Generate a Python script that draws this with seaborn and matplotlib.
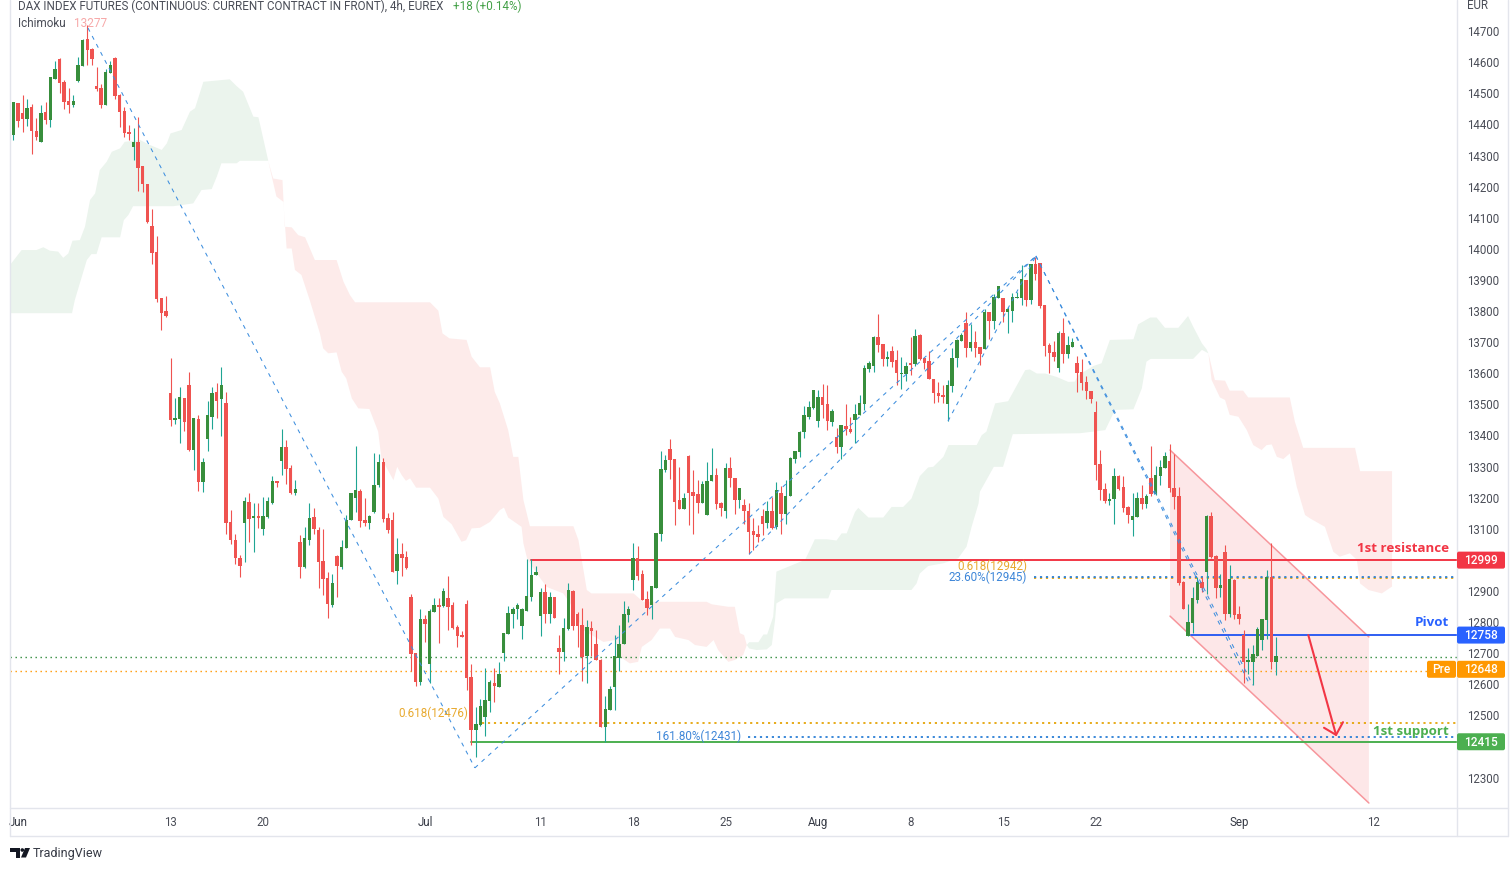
import matplotlib
matplotlib.use("Agg")
import matplotlib.pyplot as plt
from matplotlib.lines import Line2D
from matplotlib.patches import FancyBboxPatch, Polygon, Rectangle, Circle
import numpy as np
import pandas as pd
import seaborn as sns

# ---------- candles (EUR) ----------
open_prices = [
14366,14469,14437,14417,14456,14379,14343,14440,14414,14546,14610,14536,14475,14462,14540,14588,14675,14642,14523,14517,
14462,14565,14613,14494,14443,14375,14327,14343,14266,14208,14073,13989,13841,13800,
13536,13449,13453,13520,13562,13353,13453,13250,13388,13459,13539,13517,13504,13121,13063,13006,13118,13186,13134,13141,
13099,13137,13182,13253,13317,13362,13295,13215,13057,12977,13063,13137,13096,12996,12941,12854,13012,12977,13038,13128,
13198,13221,13128,13118,13153,13240,13314,13134,13128,12964,13018,13009,
12880,12700,12607,12809,12664,12832,12854,12851,12877,12854,12783,12758,12857,12623,12452,12468,12494,12545,12603,12590,
12700,12761,12825,12841,12787,12835,12880,12951,12819,12896,12825,12880,12716,12703,12777,12899,12825,12790,12690,12780,
12729,12677,12462,12517,12590,12684,12729,12822,12935,13005,12954,12873,12854,12909,13083,13288,13356,13324,13192,13163,
13333,13218,13211,13182,13144,13253,13272,13182,13157,13295,13263,
13192,13176,13156,13092,13082,13140,13118,13156,13105,13214,13147,13205,13324,13346,13411,13459,13488,13446,13523,13501,
13443,13394,13362,13430,13420,13449,13465,13501,13613,13623,13716,13693,13645,13671,13642,13597,13597,13632,13629,13722,
13648,13639,13581,13536,13530,13501,13558,13648,13703,13761,13681,13700,13684,13677,13796,13768,13841,13841,13796,13800,
13841,13841,13899,13835,13951,13954,13819,13690,13668,13616,13729,13661,13684,13632,
13604,13572,13543,13475,13308,13228,13189,13195,13269,13234,13170,13128,13137,13199,13179,13263,13211,13269,13295,13318,
13231,13205,12928,12755,12797,12871,12928,12961,13141,13012,12909,13025,12826,12935,12826,12758,12671,12671,12690,12742,
12806,12944,12671]
high_prices = [
14472,14469,14494,14482,14466,14420,14462,14472,14552,14604,14613,14543,14517,14494,14617,14675,14720,14646,14585,14530,
14578,14604,14617,14498,14456,14398,14388,14424,14266,14208,14128,14041,13841,13848,
13649,13520,13555,13520,13604,13456,13465,13327,13510,13555,13568,13620,13539,13160,13083,13015,13202,13215,13182,13182,
13202,13202,13269,13253,13420,13385,13305,13256,13079,13105,13182,13166,13105,13099,12960,12954,13015,13063,13144,13215,
13366,13227,13198,13144,13343,13340,13327,13150,13153,13070,13054,13028,
12890,12700,12841,12822,12841,12877,12877,12909,12947,12864,12790,12771,12870,12664,12526,12552,12652,12613,12652,12671,
12764,12851,12848,12861,12845,13002,13002,12980,12909,12922,12896,12880,12758,12812,12925,12902,12832,12845,12806,12803,
12774,12681,12562,12594,12758,12790,12867,12851,13054,13044,12967,12899,12915,13086,13349,13337,13388,13324,13298,13214,
13337,13288,13256,13253,13314,13359,13295,13185,13311,13330,13263,
13230,13195,13182,13134,13111,13163,13189,13201,13250,13237,13256,13330,13349,13414,13494,13510,13546,13546,13565,13562,
13484,13423,13433,13501,13459,13501,13530,13626,13639,13719,13790,13693,13671,13687,13674,13652,13636,13716,13742,13726,
13648,13671,13581,13571,13562,13578,13681,13710,13729,13796,13758,13735,13684,13806,13796,13854,13880,13841,13813,13858,
13861,13948,13899,13951,13973,13954,13819,13697,13703,13735,13777,13719,13713,13655,
13646,13591,13543,13511,13353,13247,13215,13295,13273,13269,13173,13215,13218,13240,13211,13366,13301,13321,13347,13372,
13340,13234,12932,12858,12912,12945,12945,13144,13154,13015,12954,13047,12983,12938,12851,12774,12716,12726,12784,12809,
12967,13054,12752]
low_prices = [
14350,14393,14375,14395,14305,14350,14343,14401,14392,14546,14501,14449,14437,14456,14536,14588,14591,14591,14507,14453,
14462,14565,14482,14392,14359,14350,14285,14186,14183,14083,13951,13828,13738,13780,
13430,13436,13375,13414,13350,13289,13221,13218,13350,13420,13456,13398,13083,13051,12986,12944,12993,13057,13025,13102,
13080,13134,13179,13234,13272,13244,13211,13208,12941,12973,13047,13083,12909,12886,12813,12848,12880,12970,13038,13128,
13153,13105,13108,13099,13150,13234,13121,13086,12960,12922,12948,12970,
12642,12594,12597,12735,12603,12832,12732,12848,12774,12777,12719,12751,12581,12404,12365,12465,12433,12510,12542,12590,
12674,12761,12780,12809,12745,12835,12867,12951,12755,12796,12796,12812,12632,12674,12774,12774,12719,12610,12603,12690,
12677,12462,12414,12517,12517,12642,12729,12800,12902,12935,12870,12822,12809,12909,13060,13282,13259,13111,13163,13163,
13111,13083,13150,13182,13144,13253,13163,13140,13134,13234,13147,
13166,13115,13018,13031,13057,13079,13102,13099,13099,13082,13115,13205,13311,13330,13391,13452,13484,13427,13456,13417,
13430,13343,13324,13401,13407,13375,13465,13481,13603,13603,13668,13623,13623,13620,13562,13549,13575,13594,13623,13642,
13613,13581,13504,13507,13504,13446,13539,13620,13703,13652,13671,13652,13626,13677,13710,13742,13841,13764,13729,13764,
13841,13819,13816,13822,13899,13809,13655,13600,13639,13603,13632,13649,13684,13539,
13546,13517,13504,13256,13192,13182,13176,13115,13224,13154,13118,13076,13137,13163,13166,13205,13208,13240,13295,13218,
13163,12919,12842,12755,12764,12861,12896,12890,13006,12877,12880,12806,12816,12809,12793,12604,12633,12597,12690,12710,
12745,12649,12629]
close_prices = [
14472,14411,14417,14453,14379,14359,14437,14414,14552,14578,14533,14472,14462,14475,14591,14671,14639,14610,14514,14462,
14568,14591,14491,14440,14372,14369,14343,14260,14208,14086,13986,13838,13793,13783,
13449,13456,13523,13443,13353,13456,13250,13314,13465,13536,13510,13562,13118,13063,13006,12980,13189,13131,13141,13134,
13141,13189,13253,13247,13362,13292,13215,13227,12977,13070,13134,13099,12993,12938,12858,12925,12980,13041,13128,13215,
13224,13125,13118,13141,13240,13314,13131,13096,12960,13018,13006,12973,
12697,12607,12809,12793,12835,12854,12848,12899,12848,12780,12754,12751,12619,12452,12471,12529,12549,12607,12594,12632,
12764,12828,12841,12854,12841,12883,12951,12960,12896,12825,12880,12812,12703,12780,12902,12787,12787,12687,12783,12771,
12677,12462,12520,12584,12690,12729,12825,12841,13005,12947,12870,12845,12915,13086,13292,13321,13321,13185,13163,13198,
13214,13205,13182,13243,13253,13272,13179,13166,13295,13263,13192,
13230,13156,13089,13079,13073,13115,13156,13102,13224,13147,13205,13327,13349,13411,13465,13491,13546,13523,13497,13446,
13478,13362,13433,13420,13411,13468,13504,13616,13632,13716,13690,13645,13652,13636,13600,13600,13623,13626,13719,13645,
13632,13581,13536,13526,13523,13562,13648,13706,13722,13681,13700,13681,13661,13796,13768,13845,13880,13796,13806,13845,
13845,13903,13835,13951,13919,13816,13687,13665,13652,13729,13661,13690,13700,13600,
13568,13543,13517,13305,13224,13189,13195,13269,13228,13166,13144,13141,13199,13179,13205,13211,13273,13298,13334,13231,
13202,12925,12842,12800,12877,12928,12909,13141,13009,12909,12919,12826,12938,12822,12809,12671,12678,12697,12777,12809,
12944,12671,12690]

# ---------- Ichimoku cloud (bar index, price) ----------
g1_top_bars = [-0.7,1.8,5,6.5,7.9,9.7,10.8,11.9,12.8,14.4,15.5,16.6,17.7,18.7,20.2,21.3,23.1,24.1,27.4,29.5,32.1,33.2,34,36.4,38.2,39.3,41.1,46.8,48.3,49.7,51.9,53,55.1]
g1_top_vals = [13948,13996,13996,14005,13994,13991,13971,13985,14026,14028,14071,14157,14178,14253,14280,14312,14323,14344,14350,14334,14318,14339,14371,14382,14441,14452,14537,14545,14523,14505,14425,14423,14285]
g1_bot_bars = [-0.7,12.7,13.3,15.9,16.9,18,19.1,23.1,23.9,24.9,25.9,34.6,38.9,40.7,42.9,44,45,48.3,49,55.1]
g1_bot_vals = [13793,13793,13835,13964,13983,13983,14037,14037,14092,14109,14137,14137,14146,14189,14192,14232,14275,14275,14283,14283]

r1_top_bars = [55.1,56.2,58.2,58.7,60.2,61.6,63.1,65.2,69.9,71.4,72.8,73.9,90.1,91.9,92.8,94.3,98,99.1,100.9,103.1,104.1,105.2,107,108.1,109.2,110.3,111.7,121.1,122.2,124,125,134.1,136.2,149.9,151,154.6,156,157.1,158,158.6]
r1_top_vals = [14283,14226,14221,14071,14069,14044,14037,13964,13964,13894,13851,13828,13828,13801,13728,13712,13707,13653,13619,13619,13540,13503,13417,13331,13331,13192,13108,13108,13063,12903,12892,12892,12865,12865,12857,12849,12849,12764,12758,12726]
r1_bot_bars = [55.1,56.9,58.4,59.1,60.2,60.9,62.3,64.1,66.3,67,68.1,69.9,71,72,73.2,74.6,77,78.9,79.6,82.2,83,84,84.9,85.8,87.1,90.1,91.9,93,94.8,96.9,97.9,99.1,100.9,103.1,105.2,106.1,107,109.9,110.3,111.1,113.2,115.3,118.9,120.4,123.2,127.6,130.1,131.2,133.3,135.1,135.9,138,139.8,142,143.1,146,147.4,149.9,151.4,152.4,154.6,156,157.8,158.6]
r1_bot_vals = [14283,14168,14151,14001,14001,13932,13916,13835,13728,13680,13664,13667,13605,13583,13519,13487,13485,13412,13326,13256,13299,13272,13254,13262,13232,13232,13197,13138,13114,13058,13063,13101,13103,13122,13160,13168,13136,13106,13053,13004,12956,12913,12892,12860,12774,12736,12742,12688,12667,12672,12720,12742,12779,12779,12752,12742,12726,12720,12742,12710,12672,12678,12694,12726]

g2_top_bars = [158.6,159.1,161.1,162.2,163,164.3,165,171.2,172.3,173.3,175.9,178,179.1,180.2,181.3,182,182.7,184.9,188.1,189.9,192.4,194.2,196,197.8,198.9,201.1,202.2,208.3,209.4,210.4,212.3,215.1,218.8,219.8,221.3,223.1,225.6,228.1,229.5,230.3,233.5,235.3,237.1,242.2,243.2,245.8,247.2,249,251.9,254,255.1,257,258,258.4]
g2_top_vals = [12726,12735,12735,12760,12760,12817,12962,13000,13034,13066,13066,13062,13085,13085,13128,13154,13167,13136,13136,13170,13170,13197,13269,13297,13299,13331,13369,13369,13401,13412,13503,13510,13610,13612,13599,13599,13588,13572,13573,13594,13623,13632,13707,13709,13757,13779,13779,13746,13746,13784,13750,13696,13677,13664]
g2_bot_bars = [158.6,159.1,160.7,162.9,164,164.7,165,166.8,176.2,176.9,194.2,195.3,196,197.8,201.1,204.3,206.1,207.2,208.7,209,212,214,216.1,230.6,236.1,238.2,242.2,244,245,245.9,255.1,257,258.4]
g2_bot_vals = [12726,12715,12710,12712,12726,12806,12860,12876,12876,12903,12903,12924,12956,12980,12989,13005,13042,13106,13181,13219,13299,13299,13404,13407,13417,13482,13484,13551,13637,13646,13646,13675,13664]

r2_top_bars = [258.4,259.8,262,263,265.9,267,276,277.1,278.9,290.1,291.2,298.1]
r2_top_vals = [13664,13578,13576,13544,13544,13522,13522,13444,13360,13360,13285,13285]
r2_bot_bars = [258.4,259.1,260.9,262,263,264.9,266.7,268.1,269.9,271,272.1,273.2,274.6,276,277.5,279.3,280.4,283.6,285.4,286.8,289,290.5,291.2,293,295.9,298.1]
r2_bot_vals = [13664,13578,13522,13514,13466,13460,13417,13369,13353,13369,13371,13331,13324,13342,13235,13144,13133,13106,13026,13010,13021,13000,12924,12903,12892,12914]

# ---------- levels and drawings ----------
resistance, pivot, support, pre_level, last_price = 12999, 12758, 12415, 12648, 12687
fib_low_orange, fib_low_blue, fib_high_orange, fib_high_blue = 12476, 12431, 12942, 12945
trend_bars = [16.15, 99.8, 99.8, 221.1, 159.1, 221.1, 202.1, 221.1, 221.1, 268.0, 221.1, 267.4]
trend_vals = [14710, 12331, 12331, 13977, 13018, 13977, 13446, 13977, 13977, 12597, 13977, 12597]
channel_bars = [250.1, 293.1]
channel_upper = [13353, 12752]
channel_lower = [12819, 12218]
arrow_bars = [280.0, 286.0]
arrow_vals = [12758, 12437]
arrow_head_bars = [283.4, 286.0, 287.5]
arrow_head_vals = [12460, 12437, 12478]

price_ticks = [t for t in range(12300, 14701, 100) if t not in (12400, 13000)]
date_tick_bars = [1, 34, 54, 89, 114, 134, 154, 174, 194, 214, 234, 265, 294]
date_tick_labels = ["Jun", "13", "20", "Jul", "11", "18", "25", "Aug", "8", "15", "22", "Sep", "12"]

W, H = 1512, 871
BLUE = "#3d8ede"
RED = "#f23645"
TEXT = "#4a4d57"
sns.set_theme(style="white", rc={"font.family": "Roboto", "axes.facecolor": "white"})

fig = plt.figure(figsize=(W / 100, H / 100), dpi=100, facecolor="white")
ax = fig.add_axes([10 / W, 1 - 808 / H, 1447 / W, 808 / H])

df = pd.DataFrame({"o": open_prices, "h": high_prices, "l": low_prices, "c": close_prices})
df["bar"] = np.arange(len(df))
up = df[df.c >= df.o]
dn = df[df.c < df.o]


def cloud(tb, tv, bb, bv, color):
    ax.fill(list(tb) + list(bb)[::-1], list(tv) + list(bv)[::-1], color=color, lw=0, zorder=1)


GREEN_CLOUD, RED_CLOUD = "#ebf4ed", "#fdebea"
cloud(g1_top_bars, g1_top_vals, g1_bot_bars, g1_bot_vals, GREEN_CLOUD)
cloud(r1_top_bars, r1_top_vals, r1_bot_bars, r1_bot_vals, RED_CLOUD)
cloud(g2_top_bars, g2_top_vals, g2_bot_bars, g2_bot_vals, GREEN_CLOUD)
cloud(r2_top_bars, r2_top_vals, r2_bot_bars, r2_bot_vals, RED_CLOUD)

# channel
ax.fill(channel_bars + channel_bars[::-1], channel_upper + channel_lower[::-1],
        color="#fde7e8", lw=0, zorder=1.5)


def line(xs, ys, color, lw, ls="-", z=3):
    sns.lineplot(x=xs, y=ys, color=color, linewidth=lw, linestyle=ls, estimator=None,
                 sort=False, ax=ax, zorder=z, legend=False)


line(channel_bars, channel_upper, "#f7969c", 1.1)
line(channel_bars, channel_lower, "#f7969c", 1.1)

xmax = 312.15
line([-0.71, xmax], [last_price] * 2, "#2e8b3a", 1.0, (0, (1, 2.6)))
line([-0.71, 305.9], [pre_level - 4] * 2, "#ff9800", 1.0, (0, (1, 2.6)))
line([112, xmax], [resistance] * 2, RED, 1.4)
line([254.7, xmax], [pivot] * 2, "#2f5ef2", 1.4)
line([99, xmax], [support] * 2, "#4caf50", 1.4)
dots = (0, (1.2, 2.1))
line([101.3, xmax], [fib_low_orange] * 2, "#e5a50a", 1.3, dots)
line([158.8, xmax], [fib_low_blue] * 2, "#2b7fd6", 1.3, dots)
line([220.8, xmax], [fib_high_orange] * 2, "#e5a50a", 1.3, dots)
line([220.8, xmax], [fib_high_blue + 1] * 2, "#2b7fd6", 1.3, dots)

# candles
ax.vlines(up.bar, up.l, up.h, color="#1fa593", lw=0.8, zorder=4)
ax.vlines(dn.bar, dn.l, dn.h, color="#ef5350", lw=0.8, zorder=4)
ax.bar(up.bar, up.c - up.o, bottom=up.o, width=0.74, color="#388e3c", lw=0, zorder=5)
ax.bar(dn.bar, dn.o - dn.c, bottom=dn.c, width=0.74, color="#ef5350", lw=0, zorder=5)

# dashed fibonacci swing lines
for i in range(0, len(trend_bars), 2):
    line(trend_bars[i:i + 2], trend_vals[i:i + 2], BLUE, 0.75, (0, (3.9, 4.8)), z=6)

# arrow
line(arrow_bars, arrow_vals, RED, 1.5, z=6)
line(arrow_head_bars, arrow_head_vals, RED, 1.5, z=6)

ax.set_xlim(-0.71, xmax)
ax.set_ylim(12202, 14800)
ax.set_xlabel("")
ax.set_ylabel("")
ax.yaxis.tick_right()
ax.set_yticks(price_ticks)
ax.set_yticklabels([str(t) for t in price_ticks])
ax.set_xticks(date_tick_bars)
ax.set_xticklabels(date_tick_labels)
ax.tick_params(axis="y", length=0, pad=7.6, labelsize=8.3, labelcolor=TEXT)
ax.tick_params(axis="x", length=0, pad=6, labelsize=8.3, labelcolor=TEXT)
for s in ax.spines.values():
    s.set_visible(False)
for lab in ax.get_xticklabels():
    if lab.get_text() in ("Jun", "Jul", "Aug", "Sep"):
        lab.set_color("#363a45")


def fx(x):
    return x / W


def fy(y):
    return 1 - y / H


# frame
BORDER = "#e3e5ec"
for xs, ys in [((10, 10), (0, 836)), ((1457, 1457), (0, 836)), ((1508, 1508), (0, 836)),
               ((10, 1508), (808, 808)), ((10, 1508), (836, 836))]:
    fig.add_artist(Line2D([fx(v) for v in xs], [fy(v) for v in ys], color=BORDER, lw=1.0, zorder=3))

# header
fig.text(fx(18), fy(6.7), "DAX INDEX FUTURES (CONTINUOUS: CURRENT CONTRACT IN FRONT), 4h, EUREX",
         fontsize=8.42, color=TEXT, va="center", ha="left")
fig.text(fx(453), fy(6.7), "+18 (+0.14%)", fontsize=8.42, color="#43a047", va="center", ha="left")
fig.text(fx(18), fy(23.5), "Ichimoku", fontsize=8.5, color=TEXT, va="center", ha="left")
fig.text(fx(74), fy(23.5), "13277", fontsize=8.5, color="#f7a8a8", va="center", ha="left")
fig.text(fx(1467), fy(5.5), "EUR", fontsize=8.3, color=TEXT, va="center", ha="left")


def val_px(p):
    return H - ax.transData.transform((0, p))[1]


def tag(x0, x1, yc, text, color):
    y0 = yc - 8.5
    fig.add_artist(FancyBboxPatch((x0, H - y0 - 17), x1 - x0, 17, boxstyle="round,pad=0,rounding_size=2",
                                  fc=color, ec="none", transform=None, zorder=4))
    fig.text(fx((x0 + x1) / 2), fy(yc + 0.3), text, color="white", fontsize=8.6, fontweight="medium",
             ha="center", va="center", zorder=5)


tag(1457, 1505, val_px(resistance), str(resistance), RED)
tag(1457, 1505, val_px(pivot), str(pivot), "#2962ff")
tag(1457, 1505, val_px(pre_level), str(pre_level), "#ff9800")
tag(1457, 1505, val_px(support), str(support), "#4caf50")
tag(1427, 1456, val_px(pre_level), "Pre", "#ff9800")

# drawing labels
for txt, y, col in [("1st resistance", 548, RED), ("Pivot", 623, "#2962ff"), ("1st support", 731, "#4caf50")]:
    fig.text(fx(1449), fy(y), txt, color=col, fontsize=9.6, fontfamily="Open Sans", fontweight="bold",
             ha="right", va="center", zorder=5)
for txt, xr, y, col in [("0.618(12476)", 468, 713, "#e8a92e"), ("161.80%(12431)", 741, 736, "#3d86d8"),
                        ("0.618(12942)", 1027, 566.8, "#e8a92e"), ("23.60%(12945)", 1027, 577.5, "#3d86d8")]:
    fig.text(fx(xr), fy(y), txt, color=col, fontsize=8.4, ha="right", va="center", zorder=5)

# TradingView mark and name
LOGO = "#131722"
fig.add_artist(Rectangle((10, H - 851.5), 10, 3.5, fc=LOGO, ec="none", transform=None, zorder=5))
fig.add_artist(Rectangle((15.5, H - 857.5), 4.5, 7, fc=LOGO, ec="none", transform=None, zorder=5))
fig.add_artist(Circle((22.3, H - 850), 1.8, fc=LOGO, ec="none", transform=None, zorder=5))
fig.add_artist(Polygon([(25, H - 848), (30, H - 848), (26, H - 857.5), (21, H - 857.5)], closed=True,
                       fc=LOGO, ec="none", transform=None, zorder=5))
fig.text(fx(33), fy(853.5), "TradingView", fontsize=9, color="#363a45", ha="left", va="center")

fig.savefig("out.png", dpi=100, facecolor="white")
